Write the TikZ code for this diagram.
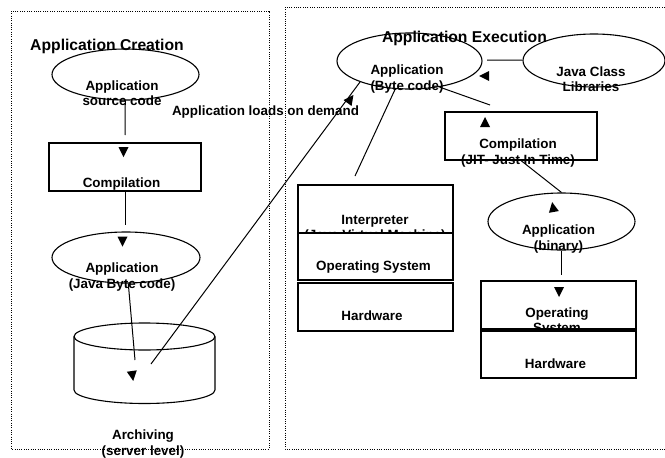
\documentclass[tikz,border=0pt]{standalone}
\usepackage{fontspec}
\setmainfont{Liberation Sans}
\usetikzlibrary{shapes.geometric}
\begin{document}
\begin{tikzpicture}[x=1pt,y=-1pt, line width=1pt,
  ell/.style={draw, ellipse, inner sep=0pt, line width=1.1pt},
  box/.style={draw, rectangle, inner sep=0pt, fill=white, line width=1.1pt},
  lbl/.style={font=\fontsize{13.4}{15.5}\selectfont\bfseries, align=center, inner sep=0pt},
  ttl/.style={font=\fontsize{15.7}{18}\selectfont\bfseries, inner sep=0pt},
  frame/.style={draw, line width=0.9pt, dash pattern=on 1pt off 1.3pt},
  ahead/.pic={\fill (5,0) -- (-5,5) -- (-5,-5) -- cycle;}]
\useasboundingbox (0,0) rectangle (665,458);

% frames
\draw[frame] (11,11) rectangle (269,449);
\draw[frame] (285,7) rectangle (670,449);

% titles
\node[ttl] (tcreate) at (107,46) {Application Creation};
\node[ttl] (texec) at (464.5,38) {Application Execution};
\node[lbl] (tloads) at (265.5,112) {Application loads on demand};

% left column
\node[ell, minimum width=147pt, minimum height=51pt] (src) at (125.5,74.5) {};
\node[lbl] (srct) at (122,93) {Application\\source code};
\node[box, minimum width=152pt, minimum height=48pt] (comp1) at (125,167) {};
\node[lbl] (comp1t) at (121.5,184) {Compilation};
\node[ell, minimum width=148pt, minimum height=51pt] (jbc) at (126,257.5) {};
\node[lbl] (jbct) at (122,277) {Application\\(Java Byte code)};

% cylinder
\coordinate (arch) at (144.5,363);
\draw[line width=1.1pt] (144.5,336.5) ellipse [x radius=70.5pt, y radius=13.5pt];
\draw[line width=1.1pt] (74,336.5) -- (74,390) arc[start angle=180, end angle=360, x radius=70.5pt, y radius=13.5pt] -- (215,336.5);
\node[lbl] (archt) at (143,444) {Archiving\\(server level)};

% right column
\node[ell, minimum width=145pt, minimum height=56pt] (bc) at (409.5,61) {};
\node[lbl] (bct) at (407,79) {Application\\(Byte code)};
\node[ell, minimum width=142pt, minimum height=53pt] (jcl) at (594,60.5) {};
\node[lbl] (jclt) at (591,79) {Java Class\\Libraries};
\node[box, minimum width=152pt, minimum height=48pt] (comp2) at (521,136) {};
\node[lbl] (comp2t) at (518,153) {Compilation\\(JIT- Just In Time)};
\node[ell, minimum width=147pt, minimum height=57pt] (bin) at (561.5,221.5) {};
\node[lbl] (bint) at (558.5,239) {Application\\(binary)};

% interpreter stack
\node[box, minimum width=155pt, minimum height=48pt] (interp) at (375.5,209) {};
\node[lbl] (interpt) at (375,229) {Interpreter\\(Java Virtual Machine)};
\node[box, minimum width=155pt, minimum height=47pt] (os1) at (375.5,256.5) {};
\node[lbl] (os1t) at (373.5,267) {Operating System};
\node[box, minimum width=155pt, minimum height=48pt] (hw1) at (375.5,307) {};
\node[lbl] (hw1t) at (372,316) {Hardware};

% native stack
\node[box, minimum width=155pt, minimum height=48pt] (os2) at (558.5,305) {};
\node[lbl] (os2t) at (557,321.5) {Operating\\System};
\node[box, minimum width=155pt, minimum height=47pt] (hw2) at (558.5,354.5) {};
\node[lbl] (hw2t) at (555.5,364) {Hardware};

% free ends of connectors
\coordinate (c1) at (125,135);
\coordinate (c2) at (125,225);
\coordinate (c3) at (135,360);
\coordinate (c4) at (151,364);
\coordinate (c5) at (355,176);
\coordinate (c6) at (487,60);
\coordinate (c7) at (490,105);
\coordinate (c9) at (561.5,275);

% connectors
\draw (src) -- (c1);
\draw (comp1) -- (c2);
\draw (jbc) -- (c3);
\draw (c4) -- (bc.203);
\draw (bc.243) -- (c5);
\draw (c6) -- (jcl);
\draw (bc.-41) -- (c7);
\draw (comp2.south) -- (bin.north);
\draw (bin) -- (c9);

% arrowheads
\pic[rotate=-90] at (123.5,152) {ahead};
\pic[rotate=-90] at (122.5,241.5) {ahead};
\pic[rotate=-82] at (132.5,376) {ahead};
\pic[rotate=53.6] at (350.5,99) {ahead};
\pic[rotate=180] at (484,76) {ahead};
\pic[rotate=90] at (485,122) {ahead};
\pic[rotate=100] at (553,207) {ahead};
\pic[rotate=-90] at (559,292) {ahead};
\end{tikzpicture}
\end{document}
